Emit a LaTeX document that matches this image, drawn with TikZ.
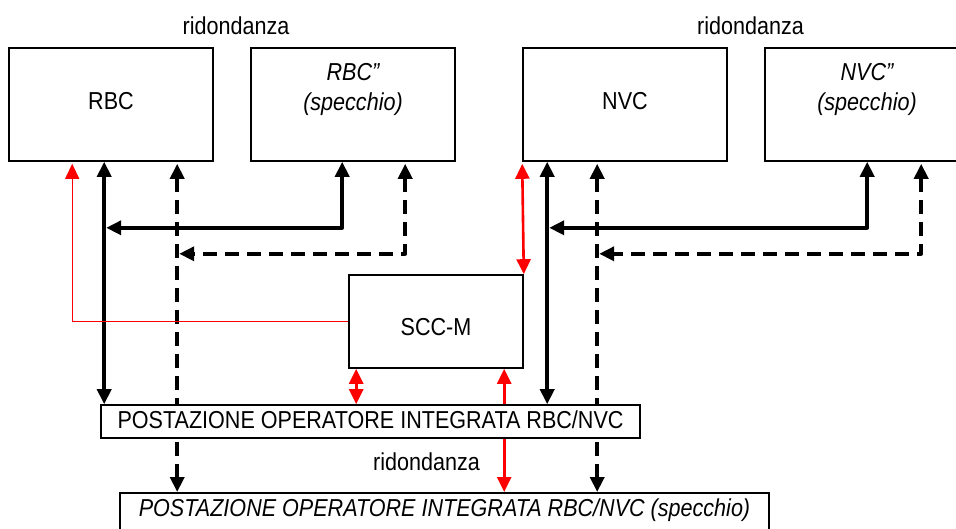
\documentclass[tikz,border=0pt]{standalone}
\usepackage{fontspec}
\setmainfont{Liberation Sans}[FakeStretch=0.88]
\usetikzlibrary{arrows.meta,calc}
\pgfdeclarelayer{background}
\pgfsetlayers{background,main}
\begin{document}
\begin{tikzpicture}[x=1pt,y=-1pt,
  txt/.style={font=\fontsize{24.5pt}{30pt}\selectfont},
  itxt/.style={font=\fontsize{24.5pt}{30pt}\selectfont\itshape},
  box/.style={txt, draw, line width=1.6pt, fill=white, inner sep=0pt, align=center},
  link/.style={line width=3.6pt, line join=round, {Triangle[width=14pt,length=15pt]}-{Triangle[width=14pt,length=15pt]}},
  dlink/.style={link, dash pattern=on 14pt off 8pt},
  rlink/.style={red, line width=2.6pt, {Triangle[width=14pt,length=15pt]}-{Triangle[width=14pt,length=15pt]}},
  rthin/.style={red, line width=1.3pt, -{Triangle[width=14pt,length=15pt]}},
  lab/.style={txt, anchor=base, inner sep=0pt}]
\clip (0,0) rectangle (956,529);

% units: main servers and their mirrors
\node[box, minimum width=204pt, minimum height=113pt, text height=17.5pt, text depth=7.9pt] (rbc) at (111,104.5) {RBC};
\node[box, itxt, minimum width=204pt, minimum height=113pt, text height=47pt, text depth=34.4pt] (rbcm) at (353,104.5) {RBC”\\(specchio)};
\node[box, minimum width=204pt, minimum height=113pt, text height=17.5pt, text depth=7.9pt] (nvc) at (625,104.5) {NVC};
\node[box, itxt, minimum width=204pt, minimum height=113pt, text height=47pt, text depth=34.4pt] (nvcm) at (867,104.5) {NVC”\\(specchio)};

\node[lab] (red1) at (236,35) {ridondanza};
\node[lab] (red2) at (750.5,35) {ridondanza};

% supervision unit
\node[box, minimum width=174pt, minimum height=93pt, text height=28.6pt, text depth=0pt] (scc) at (436,321.5) {SCC-M};

% operator workstations
\node[box, minimum width=539pt, minimum height=33pt, text height=16pt, text depth=3pt] (op) at (370.5,421.5) {POSTAZIONE OPERATORE INTEGRATA RBC/NVC};
\node[box, itxt, anchor=north, minimum width=649pt, inner ysep=6.5pt, text height=17.5pt, text depth=30pt] (mir) at (444.5,492) {POSTAZIONE OPERATORE INTEGRATA RBC/NVC (specchio)};
\node[lab] (red3) at (426.5,470) {ridondanza};

% attachment points on the box edges
\coordinate (r1)  at ($(rbc.south west)+(96,0)$);
\coordinate (rd)  at ($(rbc.south west)+(169,2)$);
\coordinate (rr)  at ($(rbc.south west)+(64,2)$);
\coordinate (rm1) at ($(rbcm.south west)+(92,0)$);
\coordinate (rm2) at ($(rbcm.south west)+(155,2)$);
\coordinate (nr)  at ($(nvc.south west)+(0,2)$);
\coordinate (n1)  at ($(nvc.south west)+(25,0)$);
\coordinate (nd)  at ($(nvc.south west)+(75,2)$);
\coordinate (nm1) at ($(nvcm.south west)+(103,0)$);
\coordinate (nm2) at ($(nvcm.south west)+(157,2)$);
\coordinate (s1)  at ($(scc.south west)+(8,0)$);
\coordinate (s2)  at ($(scc.south west)+(156,0)$);

\begin{pgfonlayer}{background}
  % RBC side
  \draw[link]  (r1) -- (r1 |- op.north);
  \draw[dlink] (rd) -- (rd |- mir.north);
  \draw[rthin] (scc.west) -| (rr);
  \draw[link]  (rm1) |- ($(r1)+(2,66)$);
  \draw[dlink] (rm2) |- ($(rd)+(2,90)$);
  % NVC side
  \draw[rlink] (nr) -- (scc.north east);
  \draw[link]  (n1) -- (n1 |- op.north);
  \draw[dlink] (nd) -- (nd |- mir.north);
  \draw[link]  (nm1) |- ($(n1)+(2,66)$);
  \draw[dlink] (nm2) |- ($(nd)+(2,90)$);
  % SCC-M to the workstations
  \draw[rlink] (s1) -- (s1 |- op.north);
  \draw[rlink] (s2) -- (s2 |- mir.north);
\end{pgfonlayer}
\end{tikzpicture}
\end{document}
